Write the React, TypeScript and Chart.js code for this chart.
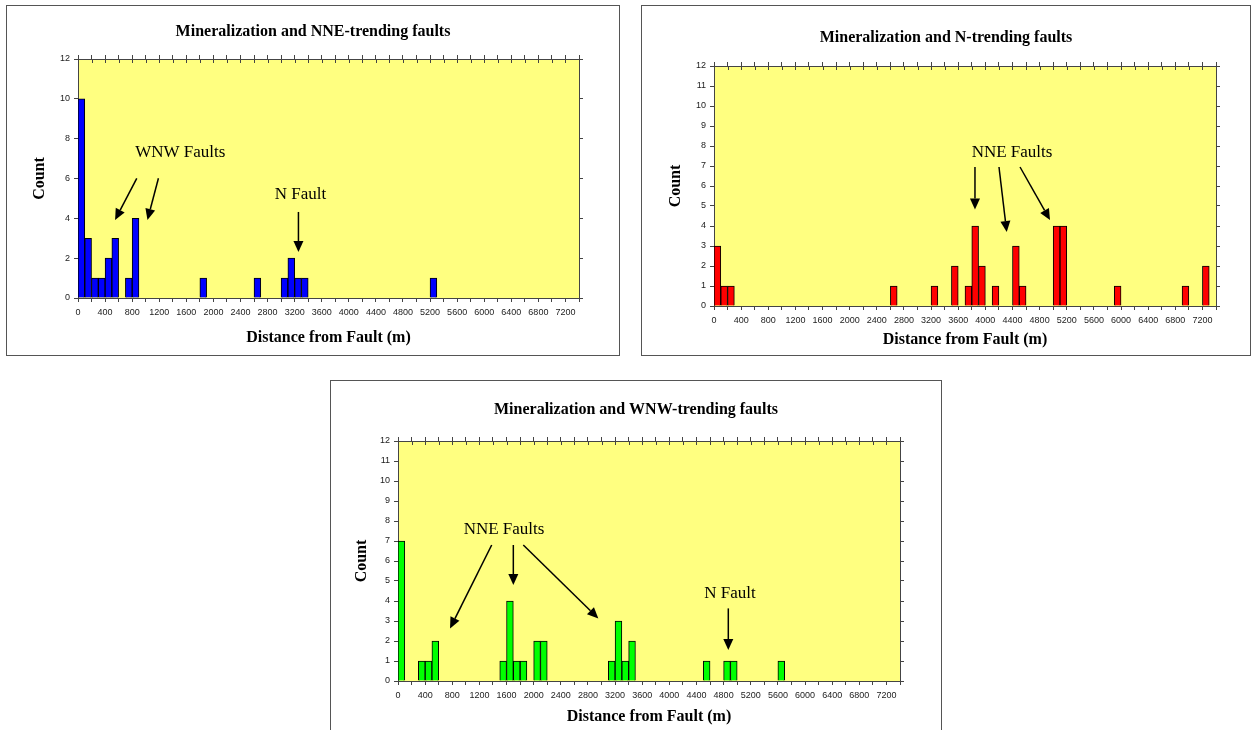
import React, { useEffect, useRef } from 'react';
import { Chart, registerables } from 'chart.js';

Chart.register(...registerables);

// ---- data: bin start distance (m) and count per 100 m bin ----
const NNE_DIST = [0, 100, 200, 300, 400, 500, 700, 800, 1800, 2600, 3000, 3100, 3200, 3300, 5200];
const NNE_COUNT = [10, 3, 1, 1, 2, 3, 1, 4, 1, 1, 1, 2, 1, 1, 1];

const N_DIST = [0, 100, 200, 2600, 3200, 3500, 3700, 3800, 3900, 4100, 4400, 4500, 5000, 5100, 5900, 6900, 7200];
const N_COUNT = [3, 1, 1, 1, 1, 2, 1, 4, 2, 1, 3, 1, 4, 4, 1, 1, 2];

const WNW_DIST = [0, 300, 400, 500, 1500, 1600, 1700, 1800, 2000, 2100, 3100, 3200, 3300, 3400, 4500, 4800, 4900, 5600];
const WNW_COUNT = [7, 1, 1, 2, 1, 4, 1, 1, 2, 2, 1, 3, 1, 2, 1, 1, 1, 1];

const BIN_WIDTH = 100;
const X_MIN = 0;
const X_MAX = 7400;
const X_TICK_STEP = 200;
const X_LABEL_STEP = 400;
const Y_MAX = 12;

const TITLES = [
  'Mineralization and NNE-trending faults',
  'Mineralization and N-trending faults',
  'Mineralization and WNW-trending faults',
];
const X_TITLE = 'Distance from Fault (m)';
const Y_TITLE = 'Count';

// annotation text (data units: x = metres, y = count)
const NNE_NOTE_TEXT = ['WNW Faults', 'N Fault'];
const NNE_NOTE_X = [1510, 3285];
const NNE_NOTE_Y = [7.28, 5.17];
const NNE_ARROWS = [
  [868, 6.01, 548, 3.92],
  [1188, 6.01, 1026, 3.92],
  [3256, 4.32, 3256, 2.31],
];

const N_NOTE_TEXT = ['NNE Faults'];
const N_NOTE_X = [4393];
const N_NOTE_Y = [7.65];
const N_ARROWS = [
  [3847, 6.95, 3847, 4.83],
  [4201, 6.95, 4315, 3.7],
  [4511, 6.95, 4953, 4.3],
];

const WNW_NOTE_TEXT = ['NNE Faults', 'N Fault'];
const WNW_NOTE_X = [1563, 4894];
const WNW_NOTE_Y = [7.55, 4.38];
const WNW_ARROWS = [
  [1381, 6.8, 767, 2.63],
  [1700, 6.8, 1700, 4.8],
  [1847, 6.8, 2953, 3.13],
  [4869, 3.63, 4869, 1.55],
];

const AXIS_COLOR = '#444';
const TICK_FONT = { family: '"Liberation Sans", Arial, sans-serif', size: 9 };
const SERIF = '"Liberation Serif", "Times New Roman", serif';
const HEAD_FONT = { family: SERIF, size: 16, weight: 'bold', lineHeight: 1.25 };

const decorPlugin = {
  id: 'decor',
  beforeDraw(chart: any, _args: any, opts: any) {
    const { ctx, chartArea: a } = chart;
    ctx.save();
    ctx.fillStyle = opts.bg;
    ctx.fillRect(a.left, a.top, a.right - a.left, a.bottom - a.top);
    ctx.restore();
  },
  afterDraw(chart: any, _args: any, opts: any) {
    const { ctx, chartArea: a } = chart;
    const xs = chart.scales.x;
    const ys = chart.scales.y;
    const x2 = chart.scales.x2;
    ctx.save();
    // inward half of the crossing tick marks on the top axis
    ctx.strokeStyle = AXIS_COLOR;
    ctx.lineWidth = 1;
    ctx.beginPath();
    for (const t of x2.ticks) {
      const px = Math.round(x2.getPixelForValue(t.value)) + 0.5;
      ctx.moveTo(px, a.top);
      ctx.lineTo(px, a.top + 4);
    }
    ctx.stroke();
    // notes
    ctx.fillStyle = '#000';
    ctx.font = `normal 17px ${SERIF}`;
    ctx.textAlign = 'center';
    ctx.textBaseline = 'middle';
    opts.text.forEach((s: string, i: number) => {
      ctx.fillText(s, xs.getPixelForValue(opts.tx[i]), ys.getPixelForValue(opts.ty[i]));
    });
    // arrows
    ctx.strokeStyle = '#000';
    ctx.lineWidth = 1.5;
    for (const [ax1, ay1, ax2, ay2] of opts.arrows) {
      const p1x = xs.getPixelForValue(ax1);
      const p1y = ys.getPixelForValue(ay1);
      const p2x = xs.getPixelForValue(ax2);
      const p2y = ys.getPixelForValue(ay2);
      const ang = Math.atan2(p2y - p1y, p2x - p1x);
      const head = 11;
      const half = 5;
      const bx = p2x - head * Math.cos(ang);
      const by = p2y - head * Math.sin(ang);
      ctx.beginPath();
      ctx.moveTo(p1x, p1y);
      ctx.lineTo(bx, by);
      ctx.stroke();
      ctx.beginPath();
      ctx.moveTo(p2x, p2y);
      ctx.lineTo(bx + half * Math.sin(ang), by - half * Math.cos(ang));
      ctx.lineTo(bx - half * Math.sin(ang), by + half * Math.cos(ang));
      ctx.closePath();
      ctx.fill();
    }
    ctx.restore();
  },
};

type Lay = {
  yW: number; y2W: number; titleTop: number; titleBottom: number;
  x2H: number; xH: number; yTitlePad: number; xTitlePad: number;
};

type Props = {
  box: { left: number; top: number; width: number; height: number };
  title: string;
  dist: number[];
  counts: number[];
  color: string;
  yStep: number;
  lay: Lay;
  noteText: string[];
  noteX: number[];
  noteY: number[];
  arrows: number[][];
};

function keepStep(scale: any) {
  scale.ticks = scale.ticks.filter((t: any) => t.value % X_TICK_STEP === 0);
}

function Histogram(p: Props) {
  const ref = useRef<HTMLCanvasElement>(null);
  useEffect(() => {
    const points = p.dist.map((d, i) => ({ x: d + BIN_WIDTH / 2, y: p.counts[i] }));
    const grid = {
      display: true,
      drawOnChartArea: false,
      drawTicks: true,
      tickLength: 4,
      color: AXIS_COLOR,
      offset: false,
    };
    const border = { display: true, color: AXIS_COLOR, width: 1 };
    const chart = new Chart(ref.current as HTMLCanvasElement, {
      type: 'bar',
      data: {
        datasets: [
          {
            data: points as any,
            backgroundColor: p.color,
            borderColor: '#000',
            borderWidth: 1,
            barPercentage: 1,
            categoryPercentage: 1,
            xAxisID: 'x',
            yAxisID: 'y',
          },
        ],
      },
      options: {
        responsive: false,
        animation: false,
        events: [],
        layout: { padding: 0 },
        plugins: {
          legend: { display: false },
          tooltip: { enabled: false },
          title: {
            display: true,
            text: p.title,
            color: '#000',
            font: HEAD_FONT,
            padding: { top: p.lay.titleTop, bottom: p.lay.titleBottom },
          },
          decor: {
            bg: '#FFFF80',
            text: p.noteText,
            tx: p.noteX,
            ty: p.noteY,
            arrows: p.arrows,
          },
        } as any,
        scales: {
          x: {
            type: 'linear',
            position: 'bottom',
            min: X_MIN,
            max: X_MAX,
            offset: false,
            grid,
            border,
            ticks: {
              stepSize: X_TICK_STEP,
              maxTicksLimit: 1000,
              autoSkip: false,
              maxRotation: 0,
              minRotation: 0,
              padding: 5,
              color: '#222',
              font: TICK_FONT,
              callback: (v: any) => (Number(v) % X_LABEL_STEP === 0 ? String(v) : ''),
            },
            title: {
              display: true,
              text: X_TITLE,
              color: '#000',
              font: HEAD_FONT,
              padding: { top: 0, bottom: p.lay.xTitlePad },
            },
            afterBuildTicks: keepStep,
            afterFit: (s: any) => { s.height = p.lay.xH; },
          },
          x2: {
            type: 'linear',
            position: 'top',
            min: X_MIN,
            max: X_MAX,
            offset: false,
            grid,
            border,
            ticks: { display: false, stepSize: X_TICK_STEP, maxTicksLimit: 1000 },
            afterBuildTicks: keepStep,
            afterFit: (s: any) => { s.height = p.lay.x2H; },
          },
          y: {
            type: 'linear',
            position: 'left',
            min: 0,
            max: Y_MAX,
            grid,
            border,
            ticks: { stepSize: p.yStep, padding: 4, color: '#222', font: TICK_FONT },
            title: {
              display: true,
              text: Y_TITLE,
              color: '#000',
              font: HEAD_FONT,
              padding: { top: p.lay.yTitlePad, bottom: 0 },
            },
            afterFit: (s: any) => { s.width = p.lay.yW; },
          },
          y2: {
            type: 'linear',
            position: 'right',
            min: 0,
            max: Y_MAX,
            grid,
            border,
            ticks: { display: false, stepSize: p.yStep },
            afterFit: (s: any) => { s.width = p.lay.y2W; },
          },
        } as any,
      },
      plugins: [decorPlugin],
    });
    return () => chart.destroy();
  }, []);
  return (
    <div
      style={{
        position: 'absolute',
        left: p.box.left,
        top: p.box.top,
        width: p.box.width,
        height: p.box.height,
        border: '1px solid #555',
        boxSizing: 'border-box',
        background: '#fff',
      }}
    >
      <canvas ref={ref} width={p.box.width - 2} height={p.box.height - 2} style={{ display: 'block' }} />
    </div>
  );
}

export default function App() {
  return (
    <div style={{ position: 'absolute', left: 0, top: 0, width: 1251, height: 730, background: '#fff', overflow: 'hidden' }}>
      <Histogram
        box={{ left: 6, top: 5, width: 614, height: 351 }}
        title={TITLES[0]}
        dist={NNE_DIST}
        counts={NNE_COUNT}
        color="#0000FF"
        yStep={2}
        lay={{ yW: 71, y2W: 40, titleTop: 16, titleBottom: 9, x2H: 8, xH: 57, yTitlePad: 23, xTitlePad: 7 }}
        noteText={NNE_NOTE_TEXT}
        noteX={NNE_NOTE_X}
        noteY={NNE_NOTE_Y}
        arrows={NNE_ARROWS}
      />
      <Histogram
        box={{ left: 641, top: 5, width: 610, height: 351 }}
        title={TITLES[1]}
        dist={N_DIST}
        counts={N_COUNT}
        color="#FF0000"
        yStep={1}
        lay={{ yW: 72, y2W: 34, titleTop: 22, titleBottom: 10, x2H: 8, xH: 49, yTitlePad: 24, xTitlePad: 5 }}
        noteText={N_NOTE_TEXT}
        noteX={N_NOTE_X}
        noteY={N_NOTE_Y}
        arrows={N_ARROWS}
      />
      <Histogram
        box={{ left: 330, top: 380, width: 612, height: 352 }}
        title={TITLES[2]}
        dist={WNW_DIST}
        counts={WNW_COUNT}
        color="#00FF00"
        yStep={1}
        lay={{ yW: 67, y2W: 41, titleTop: 19, titleBottom: 13, x2H: 8, xH: 50, yTitlePad: 21, xTitlePad: 4 }}
        noteText={WNW_NOTE_TEXT}
        noteX={WNW_NOTE_X}
        noteY={WNW_NOTE_Y}
        arrows={WNW_ARROWS}
      />
    </div>
  );
}
